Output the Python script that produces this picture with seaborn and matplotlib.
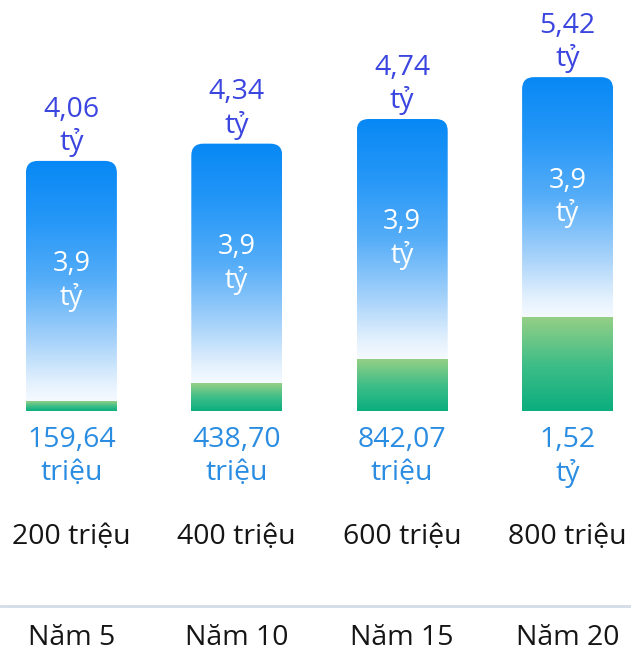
import numpy as np
import pandas as pd
import matplotlib
matplotlib.use("Agg")
import matplotlib.pyplot as plt
import seaborn as sns
from matplotlib.colors import LinearSegmentedColormap
from matplotlib.patches import FancyBboxPatch

# ---- data ----
years = ["Năm 5", "Năm 10", "Năm 15", "Năm 20"]
contrib_labels = ["200 triệu", "400 triệu", "600 triệu", "800 triệu"]
base_value = [3.9, 3.9, 3.9, 3.9]
bonus_value = [0.15964, 0.43870, 0.84207, 1.52]
total_value = [4.06, 4.34, 4.74, 5.42]
total_labels = ["4,06\ntỷ", "4,34\ntỷ", "4,74\ntỷ", "5,42\ntỷ"]
base_labels = ["3,9\ntỷ", "3,9\ntỷ", "3,9\ntỷ", "3,9\ntỷ"]
bonus_labels = ["159,64\ntriệu", "438,70\ntriệu", "842,07\ntriệu", "1,52\ntỷ"]

df = pd.DataFrame({"year": years, "total": total_value, "bonus": bonus_value, "base": base_value})

sns.set_style("white")
plt.rcParams["font.family"] = ["Open Sans", "DejaVu Sans"]

W, H = 631, 653
fig = plt.figure(figsize=(W / 100, H / 100), dpi=100)
ax = fig.add_axes([0, 0, 1, 1])

# pixel mapping
px_per_x = 165.4
px_per_y = 61.6
x0_px = 71.4
base_px = 411
xlim = (-x0_px / px_per_x, (W - x0_px) / px_per_x)
ylim = (-(H - base_px) / px_per_y, base_px / px_per_y)

bw = 91 / px_per_x
sns.barplot(data=df, x="year", y="total", ax=ax, width=bw, color="#1a8cf5", saturation=1)
n1 = len(ax.patches)
sns.barplot(data=df, x="year", y="bonus", ax=ax, width=bw, color="#30b585", saturation=1)
tot_patches = ax.patches[:n1]
bon_patches = ax.patches[n1:]

blue_cmap = LinearSegmentedColormap.from_list(
    "blue", [(0, "#f5faff"), (0.08, "#e2f0fd"), (0.25, "#a6d2fa"), (0.5, "#55adf8"),
             (0.75, "#2597f7"), (1, "#0788f5")])
green_cmap = LinearSegmentedColormap.from_list(
    "green", [(0, "#0bae7e"), (0.5, "#3fbe88"), (1, "#95cf85")])
grad = np.linspace(0, 1, 256).reshape(-1, 1)

r_x = 12 / px_per_x
aspect = px_per_x / px_per_y
for tp, bp in zip(tot_patches, bon_patches):
    x = tp.get_x(); w = tp.get_width(); top = tp.get_height(); gtop = bp.get_height()
    tp.set_visible(False); bp.set_visible(False)
    clip = FancyBboxPatch((x, -1), w, top + 1,
                          boxstyle=f"round,pad=0,rounding_size={r_x}",
                          mutation_aspect=aspect, transform=ax.transData,
                          facecolor="none", edgecolor="none")
    ax.add_patch(clip)
    im = ax.imshow(grad, cmap=blue_cmap, origin="lower", aspect="auto",
                   extent=(x, x + w, gtop, top), interpolation="bicubic", zorder=2)
    im.set_clip_path(clip)
    ax.imshow(grad, cmap=green_cmap, origin="lower", aspect="auto",
              extent=(x, x + w, 0, gtop), interpolation="bicubic", zorder=2)

for i in range(len(years)):
    ax.text(i, total_value[i] + 4 / px_per_y, total_labels[i], ha="center", va="bottom",
            fontsize=20.5, color="#3b45df", zorder=3)
    ax.text(i, bonus_value[i] + base_value[i] / 2, base_labels[i], ha="center", va="center",
            fontsize=19.5, color="white", zorder=3)
    ax.text(i, -15 / px_per_y, bonus_labels[i], ha="center", va="top",
            fontsize=20.5, color="#2a8de2", zorder=3, linespacing=1.25)
    ax.text(i, -(537 - base_px) / px_per_y, contrib_labels[i], ha="center", va="center",
            fontsize=20.5, color="#151515", zorder=3)
    ax.text(i, -(638 - base_px) / px_per_y, years[i], ha="center", va="center",
            fontsize=20.5, color="#151515", zorder=3)

ax.axhline(-(606 - base_px) / px_per_y, color="#d3dce7", lw=2, zorder=1)

ax.set_xlim(*xlim)
ax.set_ylim(*ylim)
ax.axis("off")
fig.savefig("out.png", dpi=100, facecolor="white")
